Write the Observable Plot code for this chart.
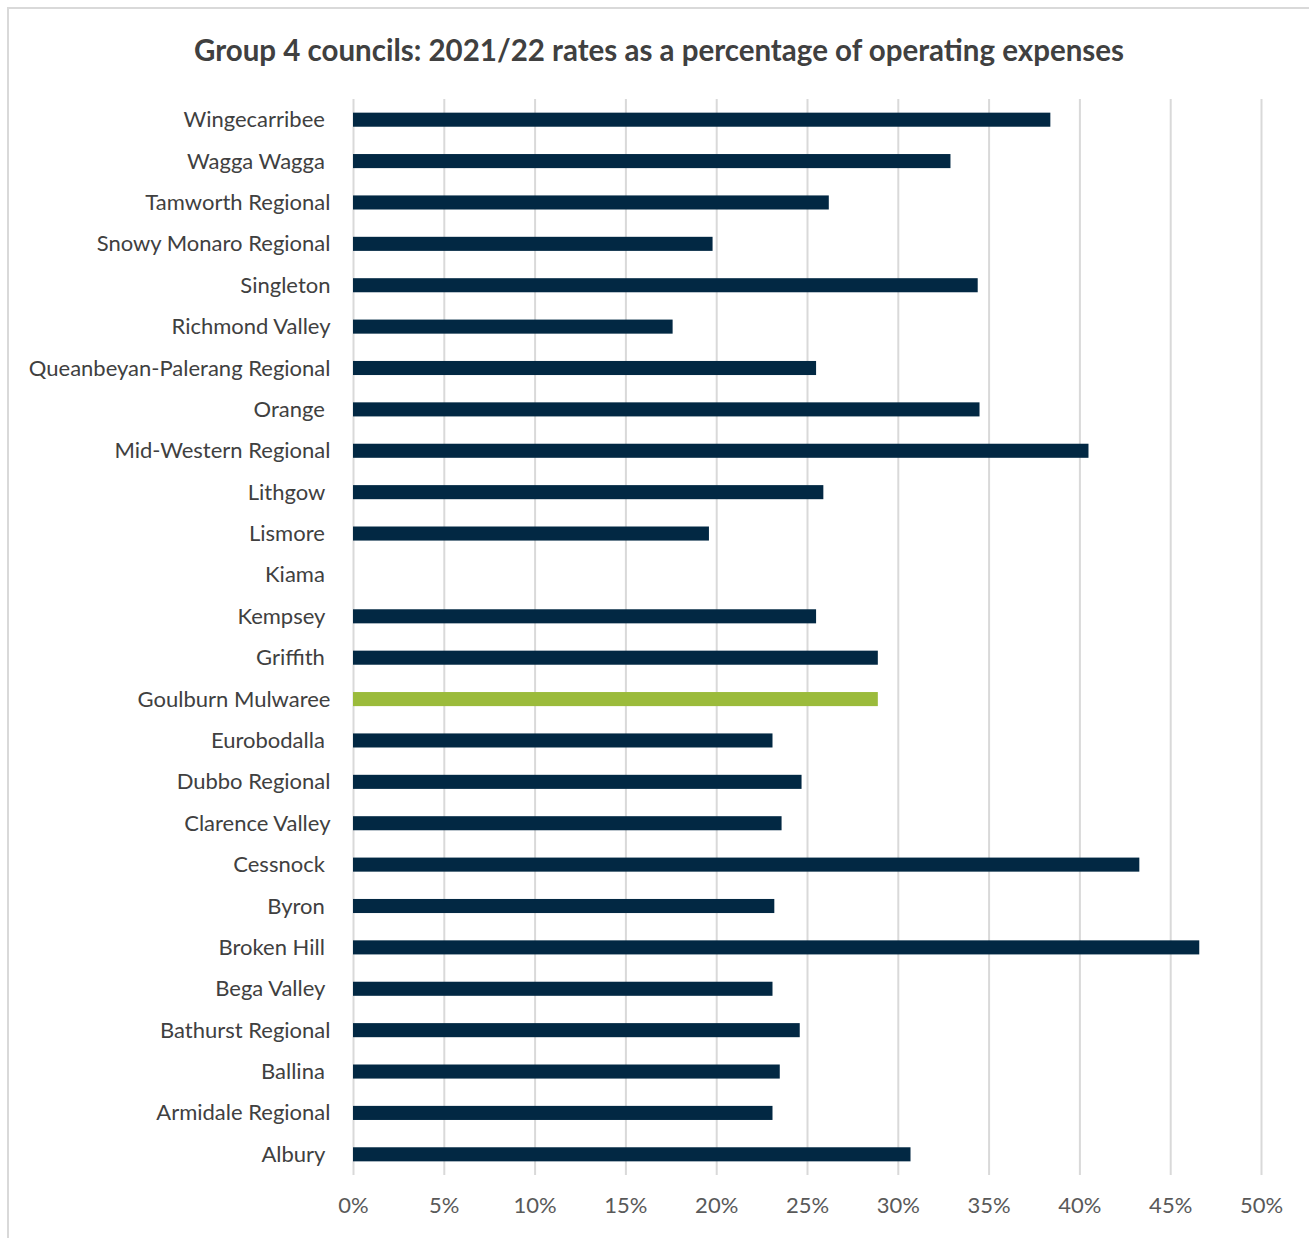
<!DOCTYPE html>
<html>
<head>
<meta charset="utf-8">
<script src="https://cdn.jsdelivr.net/npm/d3@7"></script>
<script src="https://cdn.jsdelivr.net/npm/@observablehq/plot@0.6"></script>
<style>
  html, body { margin: 0; padding: 0; background: #fff; }
  #wrap { position: relative; width: 1309px; height: 1238px; overflow: hidden; font-family: Lato, "Open Sans", sans-serif; }
  #frame { position: absolute; left: 7px; top: 7px; width: 1320px; height: 1260px; border: 2px solid #d9d9d9; box-sizing: border-box; }
  #title { position: absolute; left: 0; top: 31px; width: 1318px; text-align: center; font-weight: bold; font-size: 29.5px; color: #404040; line-height: 38px; }
  #chart { position: absolute; left: 0; top: 0; }
  #chart svg text { white-space: pre; }
</style>
</head>
<body>
<div id="wrap">
  <div id="frame"></div>
  <div id="title">Group 4 councils: 2021/22 rates as a percentage of operating expenses</div>
  <div id="chart"></div>
</div>
<script>
const councils = ["Wingecarribee ","Wagga Wagga ","Tamworth Regional","Snowy Monaro Regional","Singleton","Richmond Valley","Queanbeyan-Palerang Regional","Orange ","Mid-Western Regional","Lithgow ","Lismore ","Kiama ","Kempsey ","Griffith ","Goulburn Mulwaree","Eurobodalla ","Dubbo Regional","Clarence Valley","Cessnock ","Byron ","Broken Hill ","Bega Valley ","Bathurst Regional","Ballina ","Armidale Regional","Albury "];
const values = [38.4,32.9,26.2,19.8,34.4,17.6,25.5,34.5,40.5,25.9,19.6,null,25.5,28.9,28.9,23.1,24.7,23.6,43.3,23.2,46.6,23.1,24.6,23.5,23.1,30.7];
const highlight = "Goulburn Mulwaree";
const xTicks = [0,5,10,15,20,25,30,35,40,45,50];

const data = councils.map((c, i) => ({council: c, value: values[i]}));

const chart = Plot.plot({
  width: 1309,
  height: 1238,
  marginTop: 99,
  marginBottom: 63,
  marginLeft: 353,
  marginRight: 48,
  style: {fontFamily: "Lato, 'Open Sans', sans-serif", fontSize: "22px", color: "#404040", background: "transparent"},
  x: {domain: [0, 50], ticks: xTicks, tickFormat: d => d + "%", tickSize: 0, tickPadding: 18, label: null},
  y: {domain: councils, paddingInner: 0.66, paddingOuter: 0.33, round: false, tickSize: 0, tickPadding: 23, label: null},
  marks: [
    Plot.gridX(xTicks, {stroke: "#d9d9d9", strokeOpacity: 1, strokeWidth: 2}),
    Plot.barX(data.filter(d => d.value != null), {
      y: "council", x: "value",
      fill: d => d.council.trim() === highlight ? "#9bbb3b" : "#022843"
    }),
    Plot.axisX({ticks: xTicks, tickFormat: d => d + "%", tickSize: 0, tickPadding: 22, fill: "#595959", fontSize: 22}),
    Plot.axisY({tickSize: 0, tickPadding: 23, fill: "#404040", fontSize: 22})
  ]
});
document.getElementById("chart").appendChild(chart);
</script>
</body>
</html>
